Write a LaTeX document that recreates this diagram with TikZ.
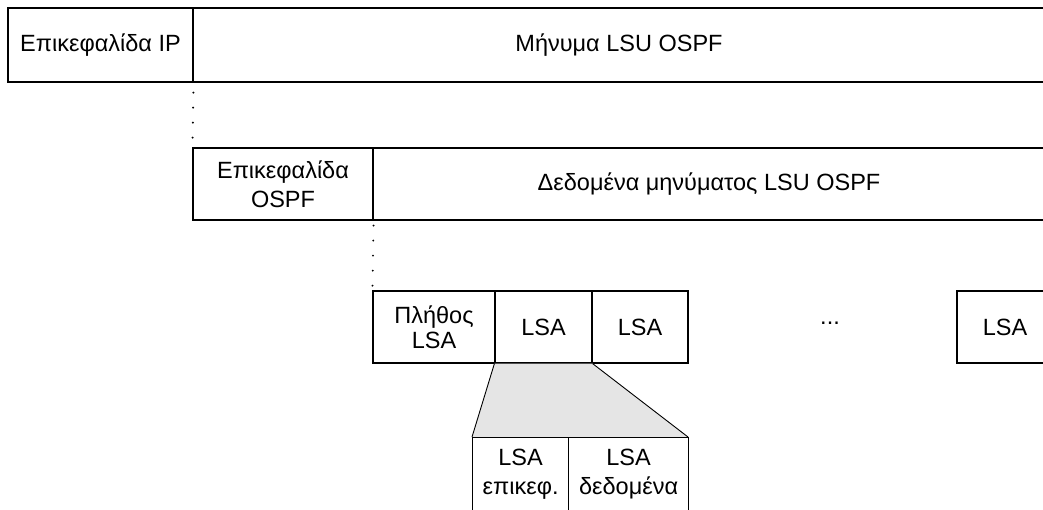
\documentclass[tikz,border=0pt]{standalone}
\usepackage{fontspec}
\setmainfont{Liberation Sans}
\begin{document}
\begin{tikzpicture}[x=1pt,y=-1pt,
  field/.style={draw=black, line width=1.2pt, inner sep=0pt, align=center,
    font=\fontsize{23.5}{29}\selectfont},
  label/.style={font=\fontsize{23.5}{29}\selectfont, align=center, inner sep=0pt},
  dotline/.style={line width=2.2pt, line cap=round, dash pattern=on 0.01pt off 15pt}]
\useasboundingbox (0,0) rectangle (1043,509);
\clip (0,0) rectangle (1043,509);
% row 1
\node[field, minimum width=185pt, minimum height=74pt] (ip) at (100.5,45) {Επικεφαλίδα IP};
\node[field, minimum width=852pt, minimum height=74pt] (lsu) at (619,45) {Μήνυμα LSU OSPF};
% row 2
\node[field, minimum width=180pt, minimum height=72pt] (ospfh) at (283,184) {Επικεφαλίδα\\OSPF};
\node[field, minimum width=672pt, minimum height=72pt] (ospfd) at (709,184) {Δεδομένα μηνύματος LSU OSPF};
% row 3
\node[field, minimum width=122pt, minimum height=72pt, font=\fontsize{23.5}{25}\selectfont] (cnt) at (434,327) {Πλήθος\\LSA};
\node[field, minimum width=97pt, minimum height=72pt] (lsaa) at (543.5,327) {LSA};
\node[field, minimum width=96pt, minimum height=72pt] (lsab) at (640,327) {LSA};
\node[label, anchor=base] (more) at (830,324) {...};
\node[field, minimum width=96pt, minimum height=72pt] (lsan) at (1005,327) {LSA};
% expansion
\coordinate (hdrtl) at (472,437);
\coordinate (datr) at (688,437);
\fill[gray!20] (lsaa.south west) -- (lsaa.south east) -- (datr) -- (hdrtl) -- cycle;
\draw[line width=0.9pt] (lsaa.south west) -- (hdrtl);
\draw[line width=0.9pt] (lsaa.south east) -- (datr);
% row 4
\node[field, minimum width=96pt, minimum height=80pt, anchor=north west] (hdr) at (472,437) {};
\node[field, minimum width=120pt, minimum height=80pt, anchor=north west] (dat) at (568,437) {};
\node[label, anchor=base] (hdrt) at (hdr.north |- 0,494) {LSA\\επικεφ.};
\node[label, anchor=base] (datt) at (dat.north |- 0,494) {LSA\\δεδομένα};
% dotted connectors
\draw[dotline, shorten <=10pt] (ip.south east) -- (ospfh.north west);
\draw[dotline, shorten <=5pt] (ospfh.south east) -- (cnt.north west);
\end{tikzpicture}
\end{document}
